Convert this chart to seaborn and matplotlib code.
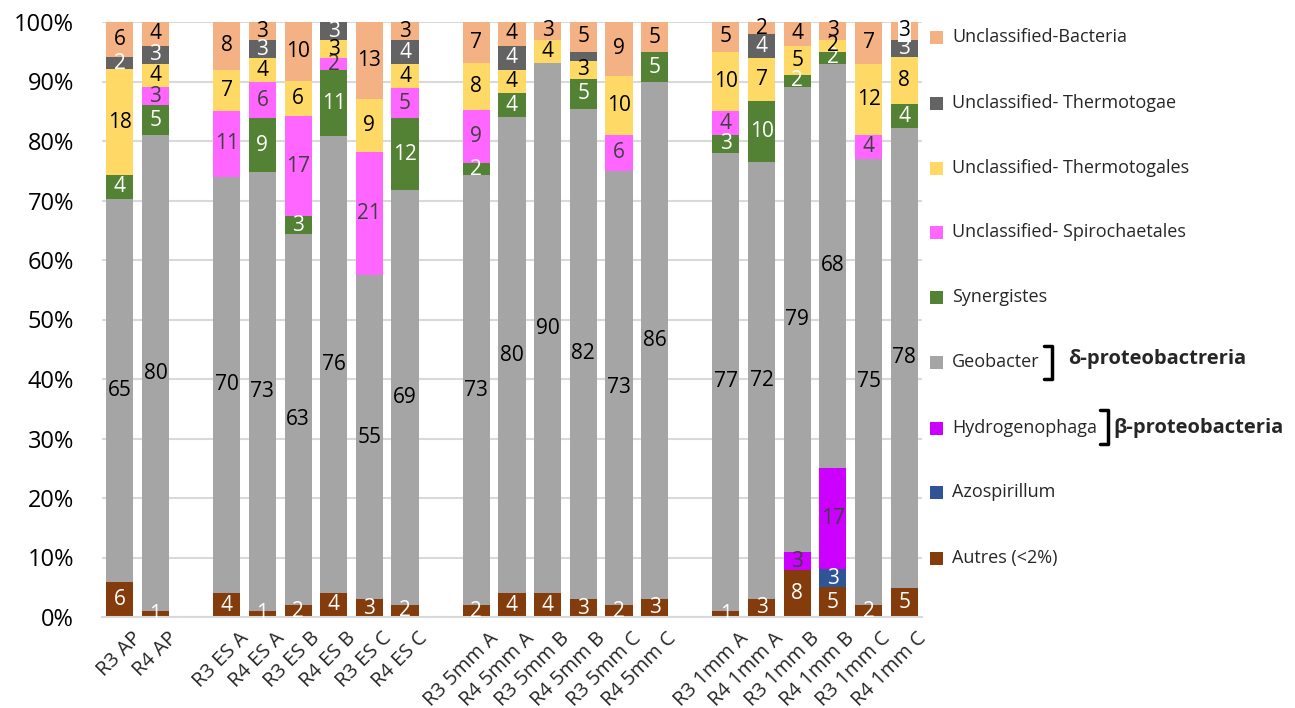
import numpy as np
import pandas as pd
import matplotlib
matplotlib.use("Agg")
import matplotlib.pyplot as plt
import matplotlib.transforms as mtransforms
import seaborn as sns
from matplotlib.ticker import PercentFormatter
from matplotlib.patches import Rectangle
from matplotlib.lines import Line2D

sns.set_theme(style="white")
plt.rcParams['font.family'] = ['Open Sans', 'DejaVu Sans']

samples = ["R3 AP", "R4 AP",
           "R3 ES A", "R4 ES A", "R3 ES B", "R4 ES B", "R3 ES C", "R4 ES C",
           "R3 5mm A", "R4 5mm A", "R3 5mm B", "R4 5mm B", "R3 5mm C", "R4 5mm C",
           "R3 1mm A", "R4 1mm A", "R3 1mm B", "R4 1mm B", "R3 1mm C", "R4 1mm C"]
group_sizes = [2, 6, 6, 6]

# bottom -> top
autres        = [6, 1, 4, 1, 2, 4, 3, 2, 2, 4, 4, 3, 2, 3, 1, 3, 8, 5, 2, 5]
azospirillum  = [0, 0, 0, 0, 0, 0, 0, 0, 0, 0, 0, 0, 0, 0, 0, 0, 0, 3, 0, 0]
hydrogenophaga= [0, 0, 0, 0, 0, 0, 0, 0, 0, 0, 0, 0, 0, 0, 0, 0, 3, 17, 0, 0]
geobacter     = [65, 80, 70, 73, 63, 76, 55, 69, 73, 80, 90, 82, 73, 86, 77, 72, 79, 68, 75, 78]
synergistes   = [4, 5, 0, 9, 3, 11, 0, 12, 2, 4, 0, 5, 0, 5, 3, 10, 2, 2, 0, 4]
spirochaetales= [0, 3, 11, 6, 17, 2, 21, 5, 9, 0, 0, 0, 6, 0, 4, 0, 0, 0, 4, 0]
thermotogales = [18, 4, 7, 4, 6, 3, 9, 4, 8, 4, 4, 3, 10, 0, 10, 7, 5, 2, 12, 8]
thermotogae   = [2, 3, 0, 3, 0, 3, 0, 4, 0, 4, 0, 1.5, 0, 0, 0, 4, 0, 0, 0, 3]
bacteria      = [6, 4, 8, 3, 10, 0, 13, 3, 7, 4, 3, 5, 9, 5, 5, 2, 4, 3, 7, 3]

series_names = ["Autres (<2%)", "Azospirillum", "Hydrogenophaga", "Geobacter", "Synergistes",
                "Unclassified- Spirochaetales", "Unclassified- Thermotogales",
                "Unclassified- Thermotogae", "Unclassified-Bacteria"]
series_vals = [autres, azospirillum, hydrogenophaga, geobacter, synergistes,
               spirochaetales, thermotogales, thermotogae, bacteria]
colors = ["#843C0C", "#2F5597", "#CC00FF", "#A5A5A5", "#548235",
          "#FF66FF", "#FFD966", "#636363", "#F4B183"]
label_colors = ["white", "white", "#404040", "black", "white",
                "#404040", "black", "white", "black"]

# positions with one empty slot between groups
pos = []
p = 0
for gs in group_sizes:
    for i in range(gs):
        pos.append(p)
        p += 1
    p += 1
pos = np.array(pos[:len(samples)], dtype=float)

raw = np.array(series_vals, dtype=float)
pct = raw / raw.sum(axis=0) * 100
cum = np.cumsum(pct, axis=0)

fig = plt.figure(figsize=(12.95, 7.08), dpi=100)
ax = fig.add_axes([102/1295, 1 - 617/708, 820/1295, 595/708])

# draw cumulative tops, from the top series down to the bottom one
for k in range(len(series_names) - 1, -1, -1):
    df = pd.DataFrame({"pos": pos, "val": cum[k]})
    sns.barplot(data=df, x="pos", y="val", native_scale=True, color=colors[k],
                saturation=1, width=0.76, linewidth=0, ax=ax, errorbar=None, zorder=2)

# labels
for k in range(len(series_names)):
    for j in range(len(samples)):
        v = raw[k, j]
        if v >= 1 and float(v).is_integer():
            ymid = cum[k, j] - pct[k, j] / 2
            kw = {}
            if samples[j] == "R4 1mm C" and k == len(series_names) - 1:
                kw = dict(bbox=dict(facecolor="white", edgecolor="none", pad=0.5))
            ax.text(pos[j], ymid, f"{int(v)}", ha="center", va="center",
                    fontsize=15, color=label_colors[k], zorder=5, **kw)

ax.set_xlim(-0.5, pos[-1] + 0.5)
ax.set_ylim(0, 100)
ax.set_yticks(np.arange(0, 101, 10))
ax.yaxis.set_major_formatter(PercentFormatter(100, decimals=0))
ax.tick_params(axis="y", labelsize=17, length=0, pad=20, colors="black")
ax.set_xticks(pos)
ax.set_xticklabels(samples, rotation=45, ha="right", rotation_mode="anchor", fontsize=14.5)
ax.tick_params(axis="x", length=0, pad=8)
offset = mtransforms.ScaledTranslation(12 / 100, 0, fig.dpi_scale_trans)
for lab in ax.get_xticklabels():
    lab.set_transform(lab.get_transform() + offset)
ax.grid(axis="y", color="#D9D9D9", linewidth=1.5, zorder=0)
ax.set_axisbelow(True)
ax.set_xlabel("")
ax.set_ylabel("")
for s in ["left", "right", "top"]:
    ax.spines[s].set_visible(False)
ax.spines["bottom"].set_color("#D9D9D9")
ax.spines["bottom"].set_linewidth(1.5)

# legend (top to bottom)
legend_y = [37, 103, 168, 232, 297, 362, 428, 492, 558]
for i, k in enumerate(range(len(series_names) - 1, -1, -1)):
    y = legend_y[i]
    fig.patches.append(Rectangle((930 / 1295, 1 - (y + 7) / 708), 13 / 1295, 13 / 708,
                                 transform=fig.transFigure, facecolor=colors[k],
                                 edgecolor="none"))
    fig.text(952 / 1295, 1 - y / 708, series_names[k], fontsize=13, va="center", ha="left")

# brackets
def bracket(x, y0, y1, w=8):
    xs = [x - w, x, x, x - w]
    ys = [y0, y0, y1, y1]
    fig.add_artist(Line2D([v / 1295 for v in xs], [1 - v / 708 for v in ys],
                          transform=fig.transFigure, color="black", linewidth=2.5))

bracket(1052, 346, 379)
fig.text(1068 / 1295, 1 - 359 / 708, "δ-proteobactreria", fontsize=14.5, fontweight="bold",
         va="center", ha="left")
bracket(1108, 410, 444)
fig.text(1113 / 1295, 1 - 428 / 708, "β-proteobacteria", fontsize=14.5, fontweight="bold",
         va="center", ha="left")

fig.savefig("out.png", dpi=100)
